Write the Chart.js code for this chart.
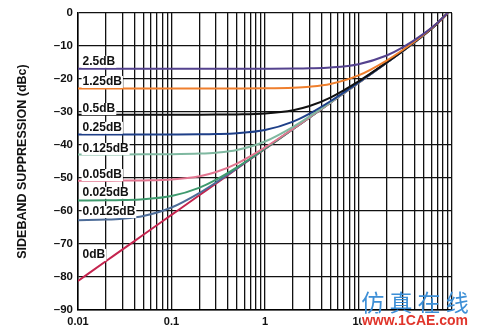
<!DOCTYPE html>
<html>
<head>
<meta charset="utf-8">
<script src="https://cdn.jsdelivr.net/npm/chart.js@4.4.1/dist/chart.umd.min.js"></script>
<style>
  html, body { margin: 0; padding: 0; background: #fff; }
  #wrap { width: 477px; height: 327px; }
</style>
</head>
<body>
<div id="wrap"><canvas id="chart"></canvas></div>
<script>
// phase error (degrees) at which the curves were read
const phaseDeg = [0.01, 0.02, 0.03, 0.05, 0.1, 0.2, 0.3, 0.5, 1, 2, 3, 5, 10, 20, 30, 50, 70, 90];

// sideband suppression (dBc) per gain error curve
const sup2p5   = [-16.89, -16.89, -16.89, -16.89, -16.89, -16.89, -16.89, -16.89, -16.87, -16.82, -16.74, -16.50, -15.50, -12.87, -10.35, -6.24, -2.94, 0];
const sup1p25  = [-22.87, -22.87, -22.87, -22.87, -22.87, -22.87, -22.87, -22.86, -22.81, -22.62, -22.33, -21.51, -18.92, -14.41, -11.14, -6.53, -3.06, 0];
const sup0p5   = [-30.82, -30.82, -30.82, -30.82, -30.82, -30.80, -30.78, -30.72, -30.43, -29.46, -28.20, -25.63, -20.71, -14.96, -11.39, -6.61, -3.08, 0];
const sup0p25  = [-36.84, -36.84, -36.84, -36.84, -36.82, -36.78, -36.70, -36.46, -35.48, -32.91, -30.49, -26.75, -21.05, -15.04, -11.43, -6.62, -3.09, 0];
const sup0p125 = [-42.86, -42.85, -42.85, -42.84, -42.80, -42.61, -42.32, -41.50, -38.93, -34.48, -31.32, -27.08, -21.13, -15.06, -11.44, -6.63, -3.10, 0];
const sup0p05  = [-50.82, -50.80, -50.78, -50.72, -50.44, -49.46, -48.20, -45.63, -40.73, -35.04, -31.59, -27.18, -21.16, -15.07, -11.44, -6.63, -3.10, 0];
const sup0p025 = [-56.82, -56.78, -56.70, -56.46, -55.48, -52.91, -50.49, -46.76, -41.07, -35.13, -31.63, -27.19, -21.16, -15.07, -11.44, -6.63, -3.10, 0];
const sup0p0125= [-62.80, -62.61, -62.32, -61.50, -58.93, -54.48, -51.32, -47.09, -41.15, -35.15, -31.64, -27.20, -21.16, -15.07, -11.44, -6.63, -3.10, 0];
const sup0     = [-81.18, -75.16, -71.64, -67.20, -61.18, -55.16, -51.64, -47.20, -41.18, -35.16, -31.64, -27.20, -21.16, -15.07, -11.44, -6.63, -3.10, 0];

const curveNames  = ['2.5dB', '1.25dB', '0.5dB', '0.25dB', '0.125dB', '0.05dB', '0.025dB', '0.0125dB', '0dB'];
const curveValues = [sup2p5, sup1p25, sup0p5, sup0p25, sup0p125, sup0p05, sup0p025, sup0p0125, sup0];
const curveColors = ['#54428e', '#ef7f2d', '#111111', '#1e3f88', '#7fb8a0', '#e27590', '#3f9a6e', '#4d6c98', '#c4244e'];

// where each curve's label sits (x in degrees, y in dBc)
const labelX = 0.0112;
const labelY = [-14.8, -20.9, -29.1, -34.8, -41.2, -49.1, -54.5, -60.3, -73.3];

const yTicks = [0, -10, -20, -30, -40, -50, -60, -70, -80, -90];
const xDecades = [0.01, 0.1, 1, 10, 100];

const FONT = 'Liberation Sans, Arial, sans-serif';

const datasets = curveValues.map((vals, i) => ({
  label: curveNames[i],
  data: phaseDeg.map((x, j) => ({ x: x, y: vals[j] })),
  borderColor: curveColors[i],
  borderWidth: 2,
  pointRadius: 0,
  fill: false,
  cubicInterpolationMode: 'monotone',
}));

// labels with white boxes behind them, like the original plot
const curveLabels = {
  id: 'curveLabels',
  afterDatasetsDraw(chart) {
    const { ctx, scales } = chart;
    ctx.save();
    ctx.font = 'bold 12px ' + FONT;
    ctx.textBaseline = 'middle';
    ctx.textAlign = 'left';
    curveNames.forEach((name, i) => {
      const px = scales.x.getPixelForValue(labelX);
      const py = scales.y.getPixelForValue(labelY[i]);
      const w = ctx.measureText(name).width;
      ctx.fillStyle = '#fff';
      ctx.fillRect(px - 1, py - 6, w + 2, 12);
      ctx.fillStyle = '#111';
      ctx.fillText(name, px, py);
    });
    ctx.restore();
  }
};

const watermark = {
  id: 'watermark',
  afterDraw(chart) {
    const { ctx, width, height } = chart;
    ctx.save();
    ctx.textAlign = 'center';
    ctx.textBaseline = 'middle';
    ctx.font = '23px "Noto Sans CJK SC"';
    ctx.fillStyle = '#3d8fd6';
    ctx.fillText('仿 真 在 线', width - 62, height - 25);
    ctx.font = 'bold 14px ' + FONT;
    ctx.lineWidth = 3;
    ctx.strokeStyle = '#fff';
    ctx.strokeText('www.1CAE.com', width - 62, height - 6);
    ctx.fillStyle = '#e0352b';
    ctx.fillText('www.1CAE.com', width - 62, height - 6);
    ctx.restore();
  }
};

new Chart(document.getElementById('chart'), {
  type: 'line',
  data: { datasets },
  plugins: [curveLabels, watermark],
  options: {
    responsive: true,
    maintainAspectRatio: false,
    animation: false,
    layout: { padding: { top: 13, right: 25, left: 0, bottom: 0 } },
    plugins: { legend: { display: false }, tooltip: { enabled: false } },
    scales: {
      x: {
        type: 'logarithmic',
        min: 0.01,
        max: 100,
        afterBuildTicks: (scale) => {
          const t = [];
          xDecades.slice(0, -1).forEach(d => {
            for (let k = 1; k < 10; k++) t.push({ value: +(d * k).toPrecision(3) });
          });
          t.push({ value: 100 });
          scale.ticks = t;
        },
        afterFit: (scale) => { scale.height = 17; },
        grid: { color: '#111', lineWidth: 1.3, drawTicks: false },
        border: { color: '#000', width: 1.5 },
        ticks: {
          autoSkip: false,
          maxRotation: 0,
          padding: 5,
          color: '#111',
          font: { family: FONT, size: 11, weight: 'bold' },
          callback: (v) => xDecades.includes(+(+v).toPrecision(3)) ? String(+(+v).toPrecision(3)) : '',
        },
      },
      y: {
        type: 'linear',
        min: -90,
        max: 0,
        afterBuildTicks: (scale) => { scale.ticks = yTicks.map(v => ({ value: v })); },
        afterFit: (scale) => { scale.width = 78; },
        grid: { color: '#111', lineWidth: 1.3, drawTicks: false },
        border: { color: '#000', width: 1.5 },
        ticks: {
          padding: 5,
          color: '#111',
          font: { family: FONT, size: 11.5, weight: 'bold' },
          callback: (v) => v < 0 ? '\u2013' + Math.abs(v) : String(v),
        },
        title: {
          display: true,
          text: 'SIDEBAND SUPPRESSION (dBc)',
          color: '#111',
          font: { family: FONT, size: 12.5, weight: 'bold' },
          padding: { top: 15, bottom: 0 },
        },
      },
    },
  },
});
</script>
</body>
</html>
